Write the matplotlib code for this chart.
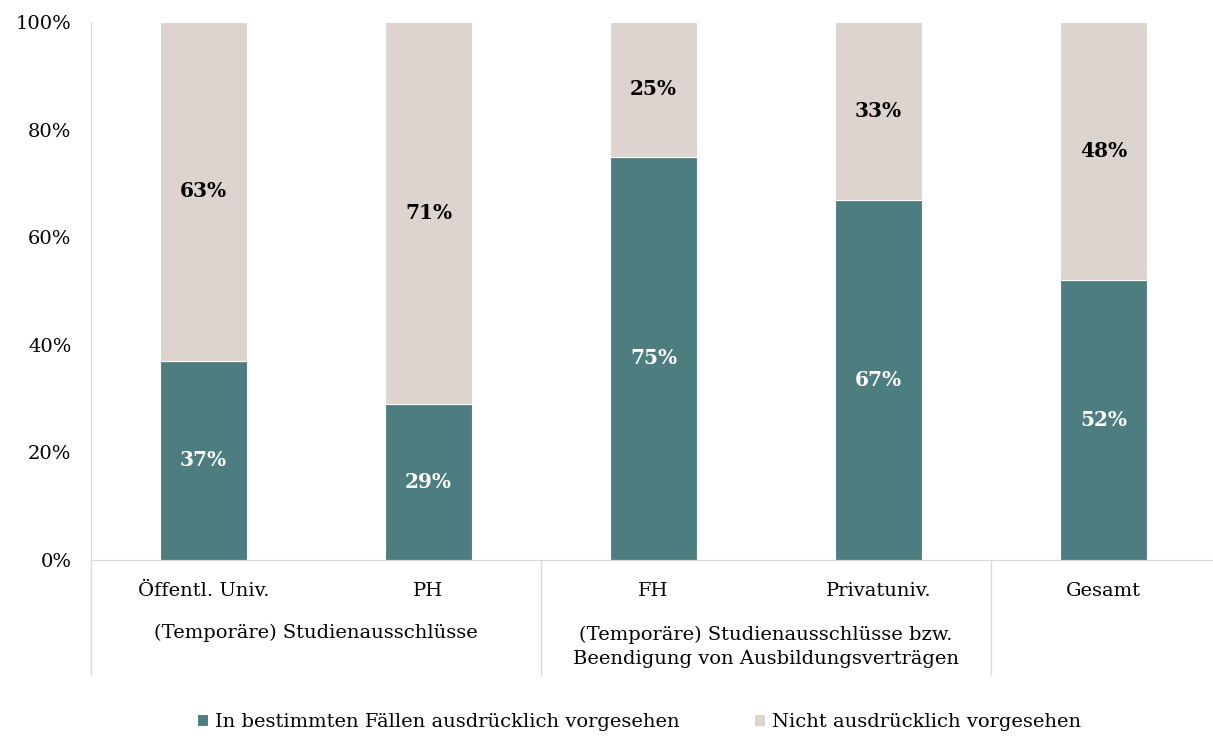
import numpy as np
import matplotlib.pyplot as plt

plt.rcParams['font.family'] = ['DejaVu Serif']

categories = ['Öffentl. Univ.', 'PH', 'FH', 'Privatuniv.', 'Gesamt']
vorgesehen = [37, 29, 75, 67, 52]
nicht_vorgesehen = [63, 71, 25, 33, 48]
groups = ['(Temporäre) Studienausschlüsse',
          '(Temporäre) Studienausschlüsse bzw.\nBeendigung von Ausbildungsverträgen']
group_spans = [(0, 1), (2, 3)]
yticks = [0, 20, 40, 60, 80, 100]

teal = '#4E7D80'
beige = '#DDD3CF'
grey = '#D9D9D9'
fs = 14

fig = plt.figure(figsize=(12.13, 7.38), dpi=100)
ax = fig.add_axes([91 / 1213, 1 - 560 / 738, (1216 - 91) / 1213, 538 / 738])

x = np.arange(len(categories))
w = 0.39
b1 = ax.bar(x, vorgesehen, w, color=teal, edgecolor='white', linewidth=0.8,
            label='In bestimmten Fällen ausdrücklich vorgesehen')
b2 = ax.bar(x, nicht_vorgesehen, w, bottom=vorgesehen, color=beige,
            edgecolor='white', linewidth=0.8, label='Nicht ausdrücklich vorgesehen')

for xi, v, n in zip(x, vorgesehen, nicht_vorgesehen):
    ax.text(xi, v / 2, f'{v}%', ha='center', va='center', color='white',
            fontsize=fs + 0.5, fontweight='bold')
    ax.text(xi, v + n / 2, f'{n}%', ha='center', va='center', color='black',
            fontsize=fs + 0.5, fontweight='bold')

ax.set_xlim(-0.5, 4.5)
ax.set_ylim(0, 100)
ax.set_yticks(yticks)
ax.set_yticklabels([f'{t}%' for t in yticks], fontsize=fs)
ax.set_xticks([])
ax.tick_params(axis='y', length=0, pad=14)
for s in ['top', 'right']:
    ax.spines[s].set_visible(False)
ax.spines['left'].set_color(grey)
ax.spines['bottom'].set_color(grey)

# category and group labels below the axis
for xi, c in zip(x, categories):
    ax.text(xi, -5.7, c, ha='center', va='center', fontsize=fs, clip_on=False)
for (a, b), g in zip(group_spans, groups):
    ax.text((a + b) / 2, -13.5 if '\n' not in g else -16.2, g, ha='center',
            va='center', fontsize=fs, linespacing=1.45, clip_on=False)

# group separator lines
for xs in [-0.5, 1.5, 3.5]:
    ax.plot([xs, xs], [0, -21.4], color=grey, lw=1, clip_on=False)

fig.legend(handles=[b1, b2], loc='center', bbox_to_anchor=(0.527, 1 - 722 / 738),
           ncol=2, frameon=False, fontsize=fs, handlelength=0.55, handleheight=0.55,
           columnspacing=3.8, handletextpad=0.4)

fig.savefig('out.png', dpi=100)
